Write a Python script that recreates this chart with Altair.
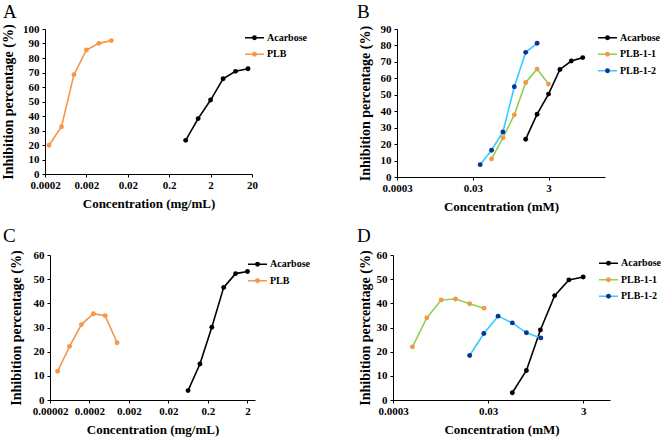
import altair as alt
import pandas as pd

FONT = "Liberation Serif"

# ---------------- Panel A (mg/mL) ----------------
A_acarbose_conc = [0.5, 1, 2, 4, 8, 16]
A_acarbose_inh = [23.2, 38.2, 51.0, 65.7, 70.8, 72.6]
A_plb_conc = [0.00025, 0.0005, 0.001, 0.002, 0.004, 0.008]
A_plb_inh = [19.8, 32.6, 68.5, 85.5, 90.1, 92.0]
A_xticks = [0.0002, 0.002, 0.02, 0.2, 2, 20]
A_yticks = [0, 10, 20, 30, 40, 50, 60, 70, 80, 90, 100]

# ---------------- Panel B (mM) ----------------
B_acarbose_conc = [0.75, 1.5, 3, 6, 12, 24]
B_acarbose_inh = [23.0, 38.2, 50.4, 65.4, 70.5, 72.6]
B_plb11_conc = [0.094, 0.1875, 0.375, 0.75, 1.5, 3.0]
B_plb11_inh = [11.0, 23.8, 37.8, 57.5, 65.6, 56.5]
B_plb12_conc = [0.047, 0.094, 0.1875, 0.375, 0.75, 1.5]
B_plb12_inh = [7.5, 16.3, 27.4, 54.9, 75.8, 81.3]
B_xticks = [0.0003, 0.03, 3]
B_yticks = [0, 10, 20, 30, 40, 50, 60, 70, 80, 90]

# ---------------- Panel C (mg/mL) ----------------
C_acarbose_conc = [0.0625, 0.125, 0.25, 0.5, 1, 2]
C_acarbose_inh = [3.9, 14.9, 30.1, 46.6, 52.3, 53.2]
C_plb_conc = [0.00003125, 0.0000625, 0.000125, 0.00025, 0.0005, 0.001]
C_plb_inh = [11.9, 22.2, 31.2, 35.7, 34.9, 23.7]
C_xticks = [0.00002, 0.0002, 0.002, 0.02, 0.2, 2]
C_yticks = [0, 10, 20, 30, 40, 50, 60]

# ---------------- Panel D (mM) ----------------
D_acarbose_conc = [0.097, 0.192, 0.378, 0.754, 1.5, 3]
D_acarbose_inh = [3.0, 12.2, 29.0, 43.2, 49.7, 50.9]
D_plb11_conc = [0.00077, 0.00154, 0.0031, 0.0062, 0.0123, 0.0247]
D_plb11_inh = [22.0, 34.0, 41.4, 41.8, 39.8, 38.0]
D_plb12_conc = [0.0123, 0.0244, 0.0487, 0.097, 0.192, 0.385]
D_plb12_inh = [18.4, 27.5, 34.7, 31.9, 27.8, 25.7]
D_xticks = [0.0003, 0.03, 3]
D_yticks = [0, 10, 20, 30, 40, 50, 60]

BLACK = "#000000"
ORANGE = "#F79646"
GREEN = "#92D050"
CYAN = "#33CCFF"
NAVY = "#0B3490"


def panel(letter, series, xdom, xticks, xtitle, ydom, yticks,
          pw, ph, dx, ytpad, lx, ly, tdx, toff):
    rows = []
    for name, xs, ys, lc, mc in series:
        for x, y in zip(xs, ys):
            rows.append({"series": name, "marker": name, "conc": x, "inh": y})
    df = pd.DataFrame(rows)
    line_colors = [s[3] for s in series]
    marker_colors = [s[4] for s in series]

    x = alt.X(
        "conc:Q",
        scale=alt.Scale(type="log", domain=xdom, range=[dx, dx + pw], nice=False),
        axis=alt.Axis(values=xticks, format=".6~f", title=xtitle,
                      minExtent=17, maxExtent=17, titlePadding=6,
                      labelFlush=False, labelOverlap=False),
    )
    y = alt.Y(
        "inh:Q",
        scale=alt.Scale(domain=ydom, nice=False),
        axis=alt.Axis(values=yticks, title="Inhibition percentage (%)",
                      minExtent=20, maxExtent=20, titlePadding=ytpad,
                      offset=-dx, labelFlush=False, labelOverlap=False,
                      labelPadding=3, titleFontSize=14),
    )
    base = alt.Chart(df)
    line = base.mark_line(strokeWidth=1.6).encode(
        x=x, y=y,
        stroke=alt.Stroke(
            "series:N",
            scale=alt.Scale(range=line_colors),
            legend=alt.Legend(title=None, orient="none", legendX=lx, legendY=ly,
                              symbolType="stroke", symbolSize=361,
                              symbolStrokeWidth=1.6, labelOffset=2,
                              clipHeight=12, rowPadding=4.5, padding=0),
        ),
    )
    pts = base.mark_circle(size=24, opacity=1).encode(
        x=x, y=y,
        fill=alt.Fill(
            "marker:N",
            scale=alt.Scale(range=marker_colors),
            legend=alt.Legend(title=None, orient="none", legendX=lx + 5.5, legendY=ly,
                              symbolType="circle", symbolSize=24,
                              symbolStrokeWidth=0, labelOffset=2, labelExpr="''",
                              clipHeight=12, rowPadding=4.5, padding=0),
        ),
    )
    return alt.layer(line, pts).properties(
        width=dx + pw,
        height=ph,
        title=alt.TitleParams(text=letter, anchor="start", frame="group", dx=tdx,
                              offset=toff, baseline="alphabetic", font=FONT,
                              fontSize=19, fontWeight="normal", color="black"),
    )


pA = panel("A",
           [("Acarbose", A_acarbose_conc, A_acarbose_inh, BLACK, BLACK),
            ("PLB", A_plb_conc, A_plb_inh, ORANGE, ORANGE)],
           [0.0002, 20], A_xticks, "Concentration (mg/mL)", [0, 100], A_yticks,
           207, 145, 0, 10, 199, 2.7, -42, -14)

pB = panel("B",
           [("Acarbose", B_acarbose_conc, B_acarbose_inh, BLACK, BLACK),
            ("PLB-1-1", B_plb11_conc, B_plb11_inh, GREEN, ORANGE),
            ("PLB-1-2", B_plb12_conc, B_plb12_inh, CYAN, NAVY)],
           [0.0003, 93], B_xticks, "Concentration (mM)", [0, 90], B_yticks,
           208, 148, 4, 5, 204, 2.7, -36, -14)

pC = panel("C",
           [("Acarbose", C_acarbose_conc, C_acarbose_inh, BLACK, BLACK),
            ("PLB", C_plb_conc, C_plb_inh, ORANGE, ORANGE)],
           [0.00002, 3.1], C_xticks, "Concentration (mg/mL)", [0, 60], C_yticks,
           205, 145, 5, 7, 202, 3.3, -42, -12)

pD = panel("D",
           [("Acarbose", D_acarbose_conc, D_acarbose_inh, BLACK, BLACK),
            ("PLB-1-1", D_plb11_conc, D_plb11_inh, GREEN, ORANGE),
            ("PLB-1-2", D_plb12_conc, D_plb12_inh, CYAN, NAVY)],
           [0.0003, 11], D_xticks, "Concentration (mM)", [0, 60], D_yticks,
           217, 145, 0, 1, 205, 2.3, -36, -12)

chart = alt.concat(
    pA, pB, pC, pD,
    columns=2,
    spacing={"row": 78, "column": 138},
    bounds="flush",
    align="each",
).resolve_scale(
    stroke="independent", fill="independent"
).resolve_legend(
    stroke="independent", fill="independent"
).properties(
    autosize=alt.AutoSizeParams(type="none"),
    padding={"left": 45, "top": 29, "right": 616, "bottom": 411},
    background="white",
).configure_axis(
    labelFont=FONT, titleFont=FONT,
    labelFontWeight="bold", titleFontWeight="bold",
    labelFontSize=11, titleFontSize=13,
    labelColor="black", titleColor="black",
    domainColor="black", tickColor="black",
    domainWidth=1, tickWidth=1, tickSize=3, labelPadding=2,
    grid=False,
).configure_legend(
    labelFont=FONT, labelFontWeight="bold", labelFontSize=10, labelColor="black",
).configure_view(stroke="transparent")

chart.save("out.html", embed_options={"renderer": "svg", "actions": False})
